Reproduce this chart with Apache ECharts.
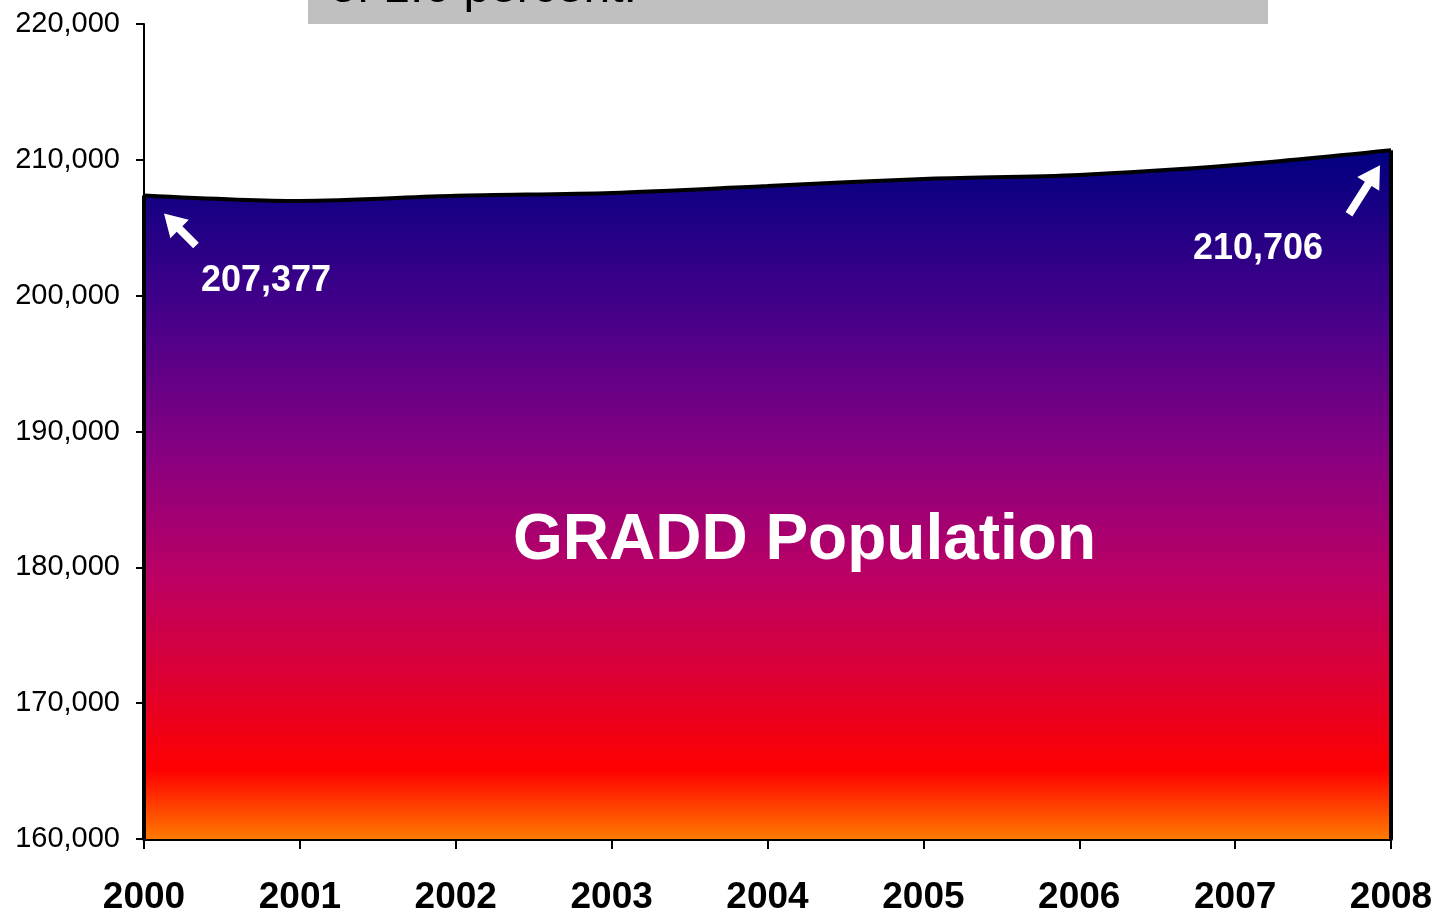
<!DOCTYPE html>
<html>
<head>
<meta charset="utf-8">
<script src="https://cdn.jsdelivr.net/npm/echarts@6/dist/echarts.min.js"></script>
<style>
html, body { margin: 0; padding: 0; background: #fff; }
#chart { width: 1437px; height: 916px; }
</style>
</head>
<body>
<div id="chart"></div>
<script>
// data
var years = ['2000', '2001', '2002', '2003', '2004', '2005', '2006', '2007', '2008'];
var population = [207377, 206970, 207350, 207560, 208070, 208590, 208890, 209620, 210706];
var yMin = 160000, yMax = 220000, yStep = 10000;
var FONT = '"Liberation Sans", Arial, sans-serif';

var myChart = echarts.init(document.getElementById('chart'));

var last = years.length - 1;

myChart.setOption({
  animation: false,
  grid: { left: 144, right: 46, top: 24, bottom: 77 },
  xAxis: {
    type: 'category',
    data: years,
    boundaryGap: false,
    axisLine: { lineStyle: { color: '#000', width: 4 } },
    axisTick: { show: true, interval: 0, length: 10, lineStyle: { color: '#000', width: 2 } },
    axisLabel: {
      interval: 0, margin: 40, color: '#000',
      fontFamily: FONT, fontSize: 37, fontWeight: 'bold'
    },
    splitLine: { show: false }
  },
  yAxis: {
    type: 'value',
    min: yMin, max: yMax, interval: yStep,
    axisLine: { show: true, lineStyle: { color: '#000', width: 2 } },
    axisTick: { show: true, length: 8, lineStyle: { color: '#000', width: 2 } },
    axisLabel: {
      margin: 24, color: '#000', fontFamily: FONT, fontSize: 29,
      formatter: function (v) { return v.toLocaleString('en-US'); }
    },
    splitLine: { show: false }
  },
  series: [{
    type: 'line',
    data: population,
    smooth: 0.3,
    symbol: 'none',
    silent: true,
    lineStyle: { color: '#000', width: 4 },
    areaStyle: {
      opacity: 1,
      color: new echarts.graphic.LinearGradient(0, 0, 0, 1, [
        { offset: 0, color: '#000080' },
        { offset: 0.25, color: '#4a008a' },
        { offset: 0.45, color: '#8a0080' },
        { offset: 0.62, color: '#bc0064' },
        { offset: 0.78, color: '#e0002e' },
        { offset: 0.9, color: '#ff0000' },
        { offset: 1, color: '#ff7a00' }
      ])
    },
    markLine: {
      silent: true,
      symbol: 'none',
      label: { show: false },
      lineStyle: { color: '#000', width: 4, type: 'solid' },
      data: [
        [{ coord: [0, yMin] }, { coord: [0, population[0]] }],
        [{ coord: [last, yMin] }, { coord: [last, population[last]] }]
      ]
    }
  }]
});

// arrow polygon from tail to tip
function arrow(tx, ty, hx, hy) {
  var dx = hx - tx, dy = hy - ty;
  var len = Math.sqrt(dx * dx + dy * dy);
  var ux = dx / len, uy = dy / len, px = -uy, py = ux;
  var sw = 4, hl = 22, hw = 13;
  var bx = hx - ux * hl, by = hy - uy * hl;
  return {
    type: 'polygon',
    shape: { points: [
      [tx + px * sw, ty + py * sw], [bx + px * sw, by + py * sw], [bx + px * hw, by + py * hw],
      [hx, hy],
      [bx - px * hw, by - py * hw], [bx - px * sw, by - py * sw], [tx - px * sw, ty - py * sw]
    ] },
    style: { fill: '#fff' }
  };
}

var p0 = myChart.convertToPixel({ seriesIndex: 0 }, [0, population[0]]);
var p8 = myChart.convertToPixel({ seriesIndex: 0 }, [last, population[last]]);
var mid = myChart.convertToPixel({ seriesIndex: 0 }, [4, 180000]);

myChart.setOption({
  graphic: [
    { type: 'rect', shape: { x: 308, y: -10, width: 960, height: 34 }, style: { fill: '#c0c0c0' }, z: 10 },
    { type: 'text', x: 330, y: -11, z: 11,
      style: { text: 'of 1.6 percent.', font: '48px ' + FONT, fill: '#000', verticalAlign: 'middle' } },
    { type: 'text', x: mid[0] + 37, y: mid[1] - 26, z: 20,
      style: { text: 'GRADD Population', font: 'bold 64px ' + FONT, fill: '#fff', align: 'center', verticalAlign: 'middle' } },
    Object.assign(arrow(p0[0] + 52, p0[1] + 50, p0[0] + 20, p0[1] + 18), { z: 20 }),
    { type: 'text', x: p0[0] + 122, y: p0[1] + 86, z: 20,
      style: { text: population[0].toLocaleString('en-US'), font: 'bold 36px ' + FONT, fill: '#fff', align: 'center', verticalAlign: 'middle' } },
    Object.assign(arrow(p8[0] - 42, p8[1] + 64, p8[0] - 11, p8[1] + 15), { z: 20 }),
    { type: 'text', x: p8[0] - 133, y: p8[1] + 99, z: 20,
      style: { text: population[last].toLocaleString('en-US'), font: 'bold 36px ' + FONT, fill: '#fff', align: 'center', verticalAlign: 'middle' } }
  ]
});
</script>
</body>
</html>
